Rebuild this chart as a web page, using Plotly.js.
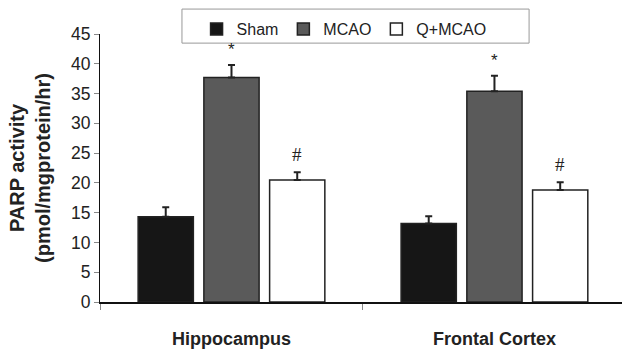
<!DOCTYPE html>
<html>
<head>
<meta charset="utf-8">
<script src="https://cdn.plot.ly/plotly-3.0.1.min.js"></script>
<style>html,body{margin:0;padding:0;background:#fff;}#chart{width:622px;height:353px;}</style>
</head>
<body>
<div id="chart"></div>
<script>
const categories = ["Hippocampus", "Frontal Cortex"];
const seriesNames = ["Sham", "MCAO", "Q+MCAO"];
const shamValues = [14.3, 13.2];
const shamErrors = [1.6, 1.2];
const mcaoValues = [37.7, 35.4];
const mcaoErrors = [2.1, 2.6];
const qmcaoValues = [20.5, 18.8];
const qmcaoErrors = [1.3, 1.3];
const yTicks = [0, 5, 10, 15, 20, 25, 30, 35, 40, 45];

const FONT = "Arial, 'Liberation Sans', sans-serif";
const colors = ["#161616", "#5a5a5a", "#ffffff"];
const vals = [shamValues, mcaoValues, qmcaoValues];
const errs = [shamErrors, mcaoErrors, qmcaoErrors];

const traces = seriesNames.map((name, i) => ({
  type: "bar",
  name: name,
  x: categories,
  y: vals[i],
  marker: {color: colors[i], line: {color: "#222", width: 1.5}},
  error_y: {type: "data", symmetric: false, array: errs[i], arrayminus: errs[i].map(() => 0),
            visible: true, color: "#222", thickness: 2, width: 3.5},
  hoverinfo: "none"
}));

const annotations = [];
categories.forEach((c, k) => {
  annotations.push({
    x: k, xref: "x", y: mcaoValues[k] + mcaoErrors[k], yref: "y",
    text: "*", showarrow: false, yanchor: "middle", yshift: 15,
    font: {family: FONT, size: 17, color: "#222"}
  });
  annotations.push({
    x: k + 0.25, xref: "x", y: qmcaoValues[k] + qmcaoErrors[k], yref: "y",
    text: "#", showarrow: false, yanchor: "middle", yshift: 18,
    font: {family: "'Liberation Serif', 'Times New Roman', serif", size: 19, color: "#222"}
  });
});

const layout = {
  width: 622, height: 353,
  margin: {l: 100, r: 0, t: 34, b: 51, pad: 0},
  paper_bgcolor: "#fff", plot_bgcolor: "#fff",
  barmode: "group", bargap: 0.25, bargroupgap: 0.16,
  showlegend: true,
  legend: {
    orientation: "h", x: 0.185, xanchor: "left", y: 1.082, yanchor: "top",
    font: {family: FONT, size: 16, color: "#222"},
    bgcolor: "rgba(0,0,0,0)", borderwidth: 0, traceorder: "normal"
  },
  shapes: [{
    type: "rect", xref: "paper", yref: "paper",
    x0: 0.157, x1: 0.822, y0: 0.966, y1: 1.093,
    line: {color: "#999", width: 1}, fillcolor: "rgba(0,0,0,0)", layer: "below"
  }],
  xaxis: {
    type: "category", range: [-0.5, 1.485],
    showline: true, linecolor: "#111", linewidth: 1.5,
    ticks: "outside", tickson: "boundaries", ticklen: 6, tickcolor: "#888", tickwidth: 1,
    ticklabelstandoff: 20,
    tickfont: {family: FONT, size: 18, color: "#222", weight: "bold"},
    tickvals: categories, ticktext: categories.map(c => "<b>" + c + "</b>"),
    showgrid: false, zeroline: false, fixedrange: true
  },
  yaxis: {
    range: [0, 45], tickvals: yTicks, ticktext: yTicks.map(String),
    showline: true, linecolor: "#111", linewidth: 1,
    ticks: "outside", ticklen: 5, tickcolor: "#888", tickwidth: 1,
    tickfont: {family: FONT, size: 17.5, color: "#222"},
    showgrid: false, zeroline: false, fixedrange: true,
    title: {text: "<b>PARP activity</b><br><b>(pmol/mgprotein/hr)</b>", font: {family: FONT, size: 20, color: "#222"}, standoff: 15}
  },
  annotations: annotations
};

Plotly.newPlot("chart", traces, layout, {displayModeBar: false, staticPlot: true});
</script>
</body>
</html>
